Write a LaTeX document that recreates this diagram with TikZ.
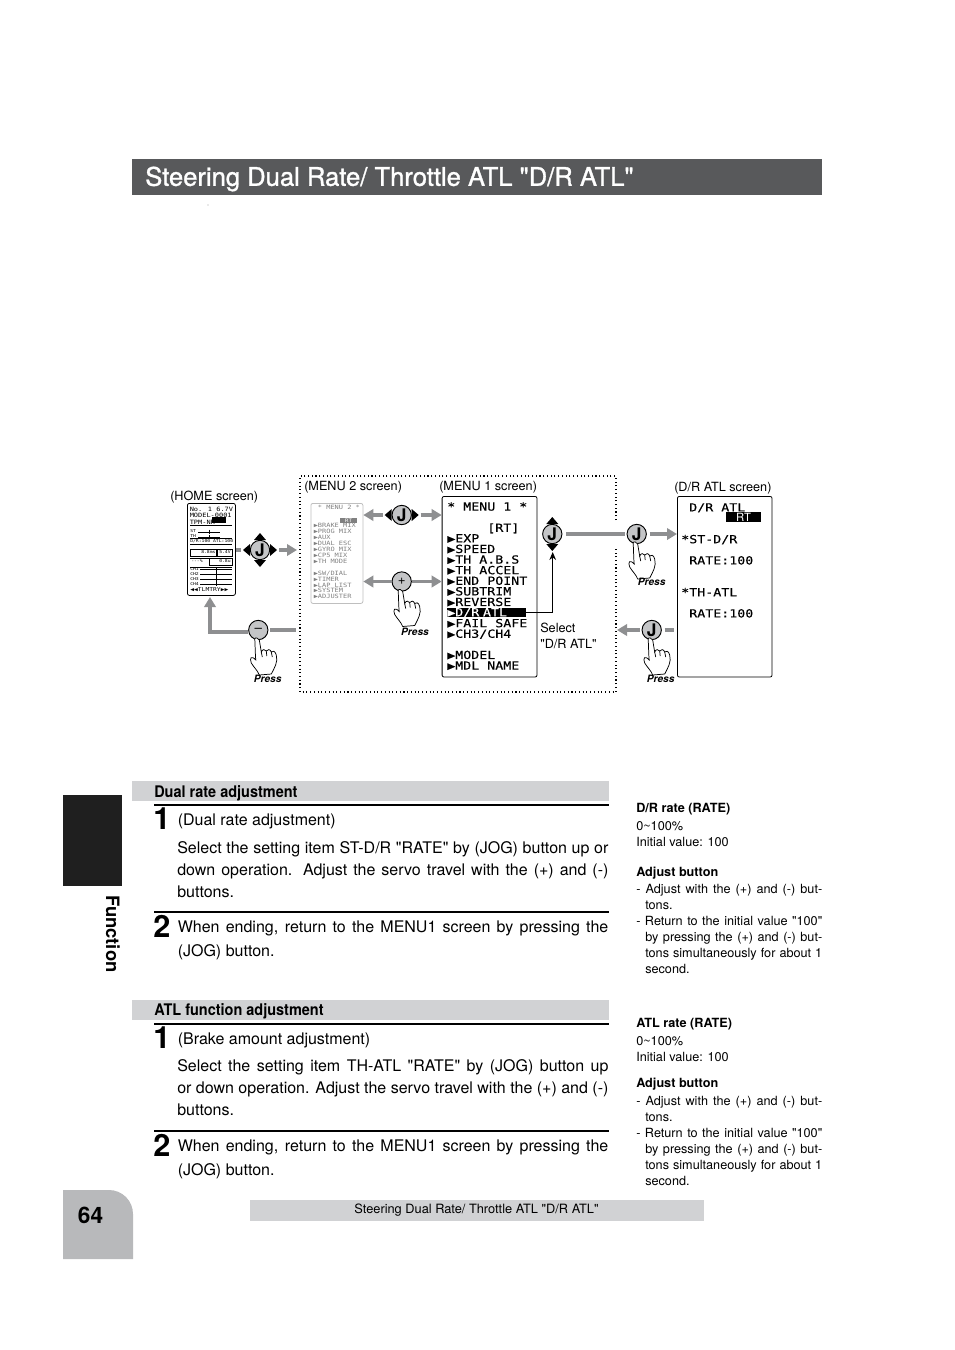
\documentclass[tikz,border=0pt]{standalone}
\usepackage{fontspec}
\usepackage{tikz}
\usetikzlibrary{arrows.meta}
\setmainfont[Ligatures=TeXOff]{TeX Gyre Heros}
\newfontfamily\screenfont[FakeStretch=1.187,FakeBold=.4,Ligatures=TeXOff]{DejaVu Sans Mono}
\newfontfamily\smallfont[FakeStretch=1.187,Ligatures=TeXOff]{DejaVu Sans Mono}
\newfontfamily\narrowfont[FakeStretch=.905,Ligatures=TeXOff]{TeX Gyre Heros}
\newfontfamily\titlefont[FakeBold=1.2,Ligatures=TeXOff]{TeX Gyre Heros}
\definecolor{bandgray}{HTML}{D1D2D4}
\definecolor{tabgray}{HTML}{B8B9BB}
\definecolor{titlegray}{HTML}{58595B}
\definecolor{arrowgray}{HTML}{8E8F91}
\definecolor{padgray}{HTML}{C4C5C7}
\newcommand{\fitline}[1]{\makebox[323.4pt][s]{#1}}
\newcommand{\sideline}[1]{\makebox[139.5pt][s]{#1}}
\newcommand{\hangline}[1]{\hspace*{6.75pt}\makebox[132.75pt][s]{#1}}
\tikzset{
  pagetext/.style={inner sep=0, anchor=north west, align=left, font=\fontsize{12}{16.5}\selectfont},
  sidetext/.style={inner sep=0, anchor=north west, align=left, font=\fontsize{9.5}{12}\selectfont},
  labeltext/.style={inner sep=0, anchor=west, font=\fontsize{9.5}{12}\selectfont},
  bandtext/.style={inner sep=0, anchor=west, font=\fontsize{12}{14}\narrowfont\bfseries\selectfont},
  stepnum/.style={inner sep=0, anchor=base west, font=\fontsize{23}{25}\bfseries\selectfont},
  presstext/.style={inner sep=0, font=\fontsize{7.6}{9}\bfseries\itshape\selectfont},
  screen/.style={draw, rounded corners=1.5pt, line width=.6pt, inner sep=0, anchor=north west},
  screentext/.style={inner sep=0, anchor=north west, align=left, font=\fontsize{8.4}{7.95}\screenfont\selectfont},
  smalltext/.style={inner sep=0, anchor=north west, align=left, font=\fontsize{4.4}{4.45}\smallfont\selectfont, text=gray},
  tinytext/.style={inner sep=0, anchor=west, font=\fontsize{3}{4}\smallfont\selectfont},
  jogbutton/.style={circle, draw, fill=padgray, line width=.7pt, inner sep=0, minimum size=14.5pt, font=\fontsize{13}{13}\bfseries\selectfont},
  grayarrow/.style={arrowgray, line width=2.5pt, -{Triangle[length=7.5pt,width=8.5pt]}},
  grayline/.style={arrowgray, line width=2.5pt},
  padtip/.pic={\fill (10,-6) -- (17,0) -- (10,6) -- cycle;},
  presshand/.pic={
    \draw[fill=white, line width=.55pt] (-3.5,9) .. controls (-3,20) and (-3,26) .. (-2.5,30)
      .. controls (-7,25) and (-9,28) .. (-7,33) .. controls (-4,38) and (-1,40) .. (1,45) -- (13,44)
      .. controls (16,38) and (20,32) .. (18,25) .. controls (17,21) and (14,20) .. (13,22)
      .. controls (12,19) and (9,19) .. (8,21) .. controls (7,19) and (4,19) .. (3,22)
      -- (1,10) .. controls (.5,8) and (-3.5,7) .. (-3.5,9) -- cycle;
    \draw[line width=.55pt] (3,22) -- (4,27) (8,21) -- (8.5,26) (13,22) -- (14,27);
  }
}
\begin{document}
\begin{tikzpicture}[x=.75pt, y=-.75pt]
\useasboundingbox (0,0) rectangle (954,1350);

\fill[titlegray] (132,159) rectangle (822,195);
\node (title) [inner sep=0, anchor=west, text=white, font=\fontsize{19.2}{20}\titlefont\selectfont] at (145,179) {Steering Dual Rate/ Throttle ATL "D/R ATL"};
\fill (208,205) circle [radius=.4];

\node (homelabel) [labeltext] at (170,497) {(HOME screen)};
\node (menu2label) [labeltext] at (304,487) {(MENU 2 screen)};
\node (menu1label) [labeltext] at (439,487) {(MENU 1 screen)};
\node (drlabel) [labeltext] at (674,488) {(D/R ATL screen)};
\draw[dotted, line width=.8pt] (616,520) -- (616,476) -- (300,476) -- (300,692) -- (616,692) -- (616,547);

\node (home) [screen, minimum width=36pt, minimum height=69pt] at (187,503) {};
\node (hometext) [smalltext, text=black] at (189.5,506.5) {No. 1~6.7V\\[.6pt]MODEL-0001\\[.6pt]TPM-NR};
\fill (212,517) rectangle (226,523);
\draw[line width=.4pt] (190,525) -- (232,525) (190,538) -- (232,538) (190,544) -- (232,544) (190,549) rectangle (216,556) (217,549) rectangle (232,556) (190,558) -- (209,558) (209,558) rectangle (232,565) (190,567) -- (232,567);
\node (homest) [tinytext] at (190,531) {ST};
\node (hometh) [tinytext] at (190,536) {TH};
\draw[line width=.4pt] (198,532) -- (220,532) (198,537) -- (220,537) (209,529.5) -- (209,534) (209,534.5) -- (209,539);
\node (homerate) [tinytext] at (190,541) {D/R:100 ATL:100};
\node (homems) [tinytext] at (201,552.5) {8.8ms};
\node (homevolt) [tinytext] at (219,552.5) {5.4V};
\node (homepct) [tinytext] at (191,561) {---\%};
\node (homeamp) [tinytext] at (219,561) {0.8u};
\node (homech1) [tinytext] at (190,569.5) {CH1};
\node (homech2) [tinytext] at (190,574.5) {CH2};
\node (homech3) [tinytext] at (190,579.5) {CH3};
\node (homech4) [tinytext] at (190,584.5) {CH4};
\draw[line width=.4pt] (200,569.5) -- (232,569.5) (200,574.5) -- (232,574.5) (200,579.5) -- (232,579.5) (200,584.5) -- (232,584.5) (216,567) -- (216,586);
\node (hometlm) [tinytext, font=\fontsize{4}{5}\smallfont\selectfont] at (190,590) {◀◀TLMTRY▶▶};

\node (menu2) [screen, draw=black!25, minimum width=39pt, minimum height=75pt] at (310.5,503) {};
\node (menu2text) [smalltext] at (313.5,505.3) {~* MENU 2 *\\ \\ \\▶BRAKE MIX\\▶PROG MIX\\▶AUX\\▶DUAL ESC\\▶GYRO MIX\\▶CP5 MIX\\▶TH MODE\\ \\▶SW/DIAL\\▶TIMER\\▶LAP LIST\\▶SYSTEM\\▶ADJUSTER};
\node (menu2rt) [inner sep=0, fill=gray, text=white, minimum width=12.5pt, minimum height=4pt, font=\fontsize{3.6}{5}\smallfont\selectfont] at (348.5,520.5) {RT};

\node (menu1) [screen, minimum width=71.2pt, minimum height=135.5pt] at (441.7,496) {};
\node (menu1text) [screentext] at (447,502) {* MENU 1 *\\ \\~~~~~[RT]\\▶EXP\\▶SPEED\\▶TH A.B.S\\▶TH ACCEL\\▶END POINT\\▶SUBTRIM\\▶REVERSE\\ \\▶FAIL SAFE\\▶CH3/CH4\\ \\▶MODEL\\▶MDL NAME};
\node (selitem) [inner sep=0, anchor=west, fill=black, text=white, minimum height=7pt, font=\fontsize{8.4}{10}\screenfont\selectfont, text width=59pt] at (447,612.7) {▶D/R ATL};

\node (drscreen) [screen, minimum width=71pt, minimum height=135.5pt] at (677,496) {};
\node (drtext) [screentext] at (681,503) {~D/R ATL\\ \\ \\*ST-D/R\\ \\~RATE:100\\ \\ \\*TH-ATL\\ \\~RATE:100};
\node (drrt) [inner sep=0, fill=black, text=white, minimum width=26pt, minimum height=7.5pt, font=\fontsize{8.5}{9}\selectfont] at (743.5,517) {RT};

\node (joghome) [jogbutton] at (260,550) {J};
\pic at (260,550) {padtip};
\pic[rotate=90] at (260,550) {padtip};
\pic[rotate=180] at (260,550) {padtip};
\pic[rotate=270] at (260,550) {padtip};
\node (jogmenu) [jogbutton] at (401.7,515) {J};
\pic at (401.7,515) {padtip};
\pic[rotate=180] at (401.7,515) {padtip};
\node (plusbtn) [jogbutton, font=\fontsize{10}{10}\selectfont] at (401.7,581.5) {+};
\node (minusbtn) [jogbutton, font=\fontsize{10}{10}\selectfont] at (258.3,630) {–};
\node (jogsel) [jogbutton] at (552.3,534) {J};
\pic[rotate=90] at (552.3,534) {padtip};
\pic[rotate=270] at (552.3,534) {padtip};
\node (jogenter) [jogbutton] at (636.7,534) {J};
\node (jogback) [jogbutton] at (651.7,630) {J};

\coordinate (boxleft) at (297,550);
\coordinate (homeup) at (210,597);
\coordinate (boxbottom) at (296,630);
\coordinate (boxright) at (617,630);
\coordinate (selend) at (552.7,552);
\draw[grayline, shorten <=6.5pt] (joghome) -- (joghome-|home.east);
\draw[grayarrow, shorten <=6.5pt] (joghome) -- (boxleft);
\draw[grayarrow, shorten <=6.5pt] (jogmenu) -- (jogmenu-|menu2.east);
\draw[grayarrow, shorten <=6.5pt] (jogmenu) -- (jogmenu-|menu1.west);
\draw[grayarrow] (plusbtn) -- (plusbtn-|menu2.east);
\draw[grayarrow] (plusbtn) -- (plusbtn-|menu1.west);
\draw[grayarrow] ([yshift=-1.5pt]minusbtn.west) -| (homeup);
\draw[grayline, shorten <=1.5pt] (minusbtn) -- (boxbottom);
\draw[-{Stealth[length=6pt,width=5pt]}, line width=.8pt] (selitem.east) -| (selend);
\draw[grayline, shorten <=3pt, shorten >=1pt] (jogsel) -- (jogenter);
\draw[grayarrow, shorten <=2pt] (jogenter) -- (jogenter-|drscreen.west);
\draw[grayarrow, shorten <=1pt] (jogback) -- (boxright);
\draw[grayline, shorten <=2pt, shorten >=2pt] (jogback) -- (jogback-|drscreen.west);

\pic at (258.3,630) {presshand};
\pic at (401.7,581.5) {presshand};
\pic at (636.7,534) {presshand};
\pic at (651.7,630) {presshand};
\node (pressminus) [presstext] at (267.7,679) {Press};
\node (pressplus) [presstext] at (415,631.7) {Press};
\node (pressenter) [presstext] at (651.7,581.7) {Press};
\node (pressback) [presstext] at (660.7,679) {Press};
\node (selectnote) [inner sep=0, anchor=north west, align=left, font=\fontsize{9.5}{12}\selectfont] at (540,622.5) {Select\\"D/R ATL"};

\fill[black!88] (63,795) rectangle (122,886);
\node (tabtext) [inner sep=0, rotate=-90, anchor=north west, font=\fontsize{13.8}{14}\bfseries\selectfont] at (120,895) {Function};

\fill[bandgray] (132,781) rectangle (609,801);
\node (dualband) [bandtext] at (154,793) {Dual rate adjustment};
\draw[line width=1.5pt] (154,804.5) -- (609,804.5);
\node (dualone) [stepnum] at (153,829) {1};
\node (dualonehead) [pagetext] at (177.5,814) {(Dual rate adjustment)};
\node (dualonebody) [pagetext] at (177,841.5) {\fitline{Select the setting item ST-D/R "RATE" by (JOG) button up or}\\\fitline{down operation. Adjust the servo travel with the (+) and (-)}\\buttons.};
\draw[line width=1.5pt] (154,912) -- (609,912);
\node (dualtwo) [stepnum] at (153,937) {2};
\node (dualtwobody) [pagetext, font=\fontsize{12}{18}\selectfont] at (177.5,920.5) {\makebox[322.9pt][s]{When ending, return to the MENU1 screen by pressing the}\\(JOG) button.};

\fill[bandgray] (132,1000) rectangle (609,1020);
\node (atlband) [bandtext] at (154,1011) {ATL function adjustment};
\draw[line width=1.5pt] (154,1023.5) -- (609,1023.5);
\node (atlone) [stepnum] at (153,1048) {1};
\node (atlonehead) [pagetext] at (177.5,1033) {(Brake amount adjustment)};
\node (atlonebody) [pagetext] at (177,1059.5) {\fitline{Select the setting item TH-ATL "RATE" by (JOG) button up}\\\fitline{or down operation. Adjust the servo travel with the (+) and (-)}\\buttons.};
\draw[line width=1.5pt] (154,1131) -- (609,1131);
\node (atltwo) [stepnum] at (153,1156) {2};
\node (atltwobody) [pagetext, font=\fontsize{12}{18}\selectfont] at (177.5,1139.5) {\makebox[322.9pt][s]{When ending, return to the MENU1 screen by pressing the}\\(JOG) button.};

\node (drrate) [sidetext, font=\fontsize{9.5}{12}\bfseries\selectfont] at (636,803) {D/R rate (RATE)};
\node (drvalues) [sidetext] at (636,821) {0\textasciitilde100\%\\Initial value: 100};
\node (dradjust) [sidetext, font=\fontsize{9.5}{12}\bfseries\selectfont] at (636,867) {Adjust button};
\node (drnotes) [sidetext] at (636,884) {\sideline{- Adjust with the (+) and (-) but-}\\\hspace*{6.75pt}tons.\\\sideline{- Return to the initial value "100"}\\\hangline{by pressing the (+) and (-) but-}\\\hangline{tons simultaneously for about 1}\\\hspace*{6.75pt}second.};
\node (atlrate) [sidetext, font=\fontsize{9.5}{12}\bfseries\selectfont] at (636,1018) {ATL rate (RATE)};
\node (atlvalues) [sidetext] at (636,1036) {0\textasciitilde100\%\\Initial value: 100};
\node (atladjust) [sidetext, font=\fontsize{9.5}{12}\bfseries\selectfont] at (636,1078) {Adjust button};
\node (atlnotes) [sidetext] at (636,1096) {\sideline{- Adjust with the (+) and (-) but-}\\\hspace*{6.75pt}tons.\\\sideline{- Return to the initial value "100"}\\\hangline{by pressing the (+) and (-) but-}\\\hangline{tons simultaneously for about 1}\\\hspace*{6.75pt}second.};

\fill[tabgray] (63,1259) -- (63,1190) [rounded corners=18pt] -- (133,1190) [sharp corners] -- (133,1259) -- cycle;
\node (pagenum) [inner sep=0, font=\fontsize{17}{18}\bfseries\selectfont] at (90.5,1215.5) {64};
\fill[bandgray] (250,1200) rectangle (704,1221);
\node (footer) [inner sep=0, font=\fontsize{9.6}{12}\selectfont] at (476.5,1210) {Steering Dual Rate/ Throttle ATL "D/R ATL"};
\end{tikzpicture}
\end{document}
